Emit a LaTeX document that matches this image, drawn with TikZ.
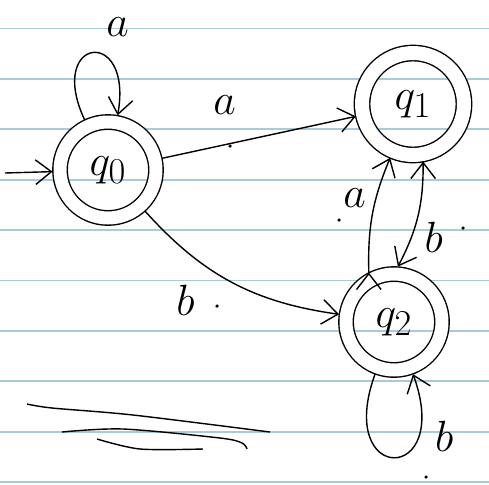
\documentclass[tikz,border=0pt]{standalone}
\usetikzlibrary{automata, positioning, arrows.meta}

\begin{document}
\begin{tikzpicture}[x=0.02cm, y=-0.02cm, auto, line width=0.8pt, >={Straight Barb[length=9pt,width=14pt]},
	every state/.style={draw, circle, minimum size=1.92cm, outer sep=0.15cm, font=\Huge},
	accepting/.style={double, double distance=0.26cm},
	ruled/.style={draw=ruleblue, line width=1.1pt},
	every edge/.style={draw, line width=0.8pt},
	lbl/.style={font=\Huge}]
		\definecolor{ruleblue}{RGB}{165,204,216}
		\useasboundingbox (0,0) rectangle (489,484);
		\foreach \y in {0,...,9}
			\draw[ruled] (0,28.5+50.4*\y) -- (489,28.5+50.4*\y);
		\node[state, accepting] (q0) at (108,170) {$q_0$};
		\node[state, accepting, minimum size=2.04cm, double distance=0.28cm] (q1) at (413,104) {$q_1$};
		\node[state, accepting] (q2) at (394,322) {$q_2$};
		\coordinate (start) at (5,173);
		\draw[->] (start) -- (q0);
		\draw[->] (q0) edge[loop, out=115, in=80, looseness=7] node[lbl, above=0.2cm, xshift=0.5cm] {$a$} (q0);
		\draw[->] (q0) edge node[lbl, inner sep=0.45cm] {$a$} (q1);
		\draw[->] (q0) edge[bend right=20] node[lbl, swap, pos=0.38, inner sep=0.3cm] {$b$} (q2);
		\draw[->] (q2.117) edge[bend left=12] node[lbl] {$a$} (q1.247);
		\draw[->] (q1.280) edge[bend left=14] node[lbl] {$b$} (q2.86);
		\draw[->] (q2) edge[loop, out=250, in=290, looseness=8] node[lbl, pos=0.75, right=0.2cm] {$b$} (q2);
		\draw plot[smooth] coordinates {(27,404) (52,408) (133,415) (270,432)};
		\draw plot[smooth] coordinates {(62,432) (123,429) (220,438) (242,443) (247,449)};
		\draw plot[smooth] coordinates {(97,439) (140,449) (203,449)};
		\foreach \p in {(230,146), (217,306), (339,220), (463,228), (426,477)}
			\fill \p circle (1pt);
	\end{tikzpicture}
\end{document}
